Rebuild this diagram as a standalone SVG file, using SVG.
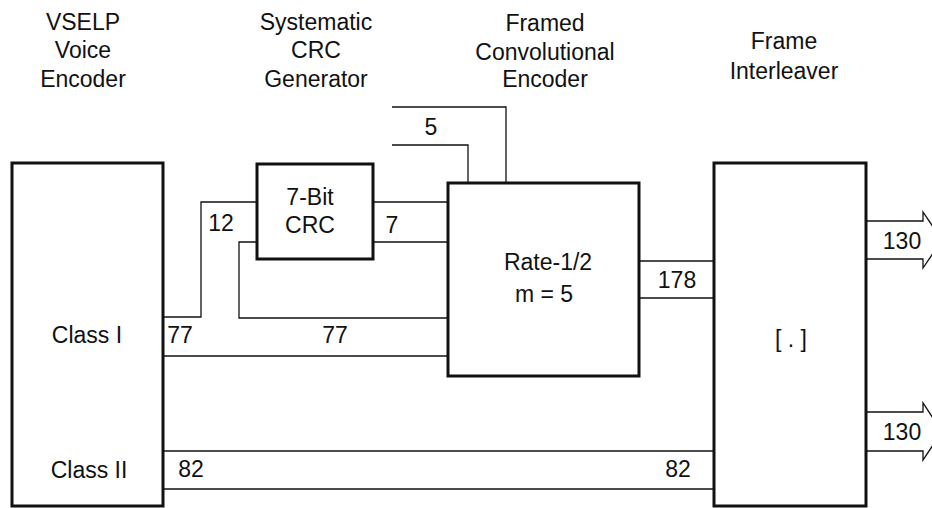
<svg xmlns="http://www.w3.org/2000/svg" width="932" height="508" viewBox="0 0 932 508">
<style>
text{font-family:"Liberation Sans",Arial,Helvetica,sans-serif;font-size:23px;fill:#111;text-anchor:middle}
.box{fill:#fff;stroke:#111;stroke-width:3}
.ln{fill:none;stroke:#111;stroke-width:1.3}
.arr{fill:#fff;stroke:#111;stroke-width:1.3;stroke-linejoin:miter}
</style>
<rect width="932" height="508" fill="#fff"/>
<g id="connectors">
<path class="ln" d="M163,317 H201 V202 H257"/>
<path class="ln" d="M373,202 H448 M373,242 H448"/>
<path class="ln" d="M257,242 H239 V318 H448"/>
<path class="ln" d="M163,356 H448"/>
<path class="ln" d="M392,107 H506 V183 M392,145 H468 V183"/>
<path class="ln" d="M639,261 H714 M639,298 H714"/>
<path class="ln" d="M163,451 H714 M163,489 H714"/>
<polygon class="arr" points="866,221 923,221 923,212 942,240 923,268 923,259 866,259"/>
<polygon class="arr" points="866,412 923,412 923,403 942,431.5 923,460 923,451 866,451"/>
<text x="221" y="231">12</text>
<text x="392" y="233">7</text>
<text x="431" y="135">5</text>
<text x="180" y="343">77</text>
<text x="335" y="343">77</text>
<text x="677" y="288">178</text>
<text x="902" y="249">130</text>
<text x="902" y="440">130</text>
<text x="191" y="477">82</text>
<text x="678" y="477">82</text>
</g>
<g id="voice-encoder">
<text x="83" y="30">VSELP</text>
<text x="83" y="58">Voice</text>
<text x="83" y="87">Encoder</text>
<rect class="box" x="12" y="163" width="151" height="343"/>
<text x="87" y="343">Class I</text>
<text x="89" y="478">Class II</text>
</g>
<g id="crc-generator">
<text x="316" y="30">Systematic</text>
<text x="316" y="58">CRC</text>
<text x="316" y="87">Generator</text>
<rect class="box" x="257" y="164" width="116" height="95"/>
<text x="310" y="205">7-Bit</text>
<text x="310" y="233">CRC</text>
</g>
<g id="conv-encoder">
<text x="545" y="31">Framed</text>
<text x="545" y="60">Convolutional</text>
<text x="545" y="87">Encoder</text>
<rect class="box" x="448" y="183" width="191" height="193"/>
<text x="548" y="270">Rate-1/2</text>
<text x="544" y="302">m = 5</text>
</g>
<g id="interleaver">
<text x="784" y="49">Frame</text>
<text x="784" y="79">Interleaver</text>
<rect class="box" x="714" y="163" width="152" height="343"/>
<text x="791" y="347">[ . ]</text>
</g>
</svg>
